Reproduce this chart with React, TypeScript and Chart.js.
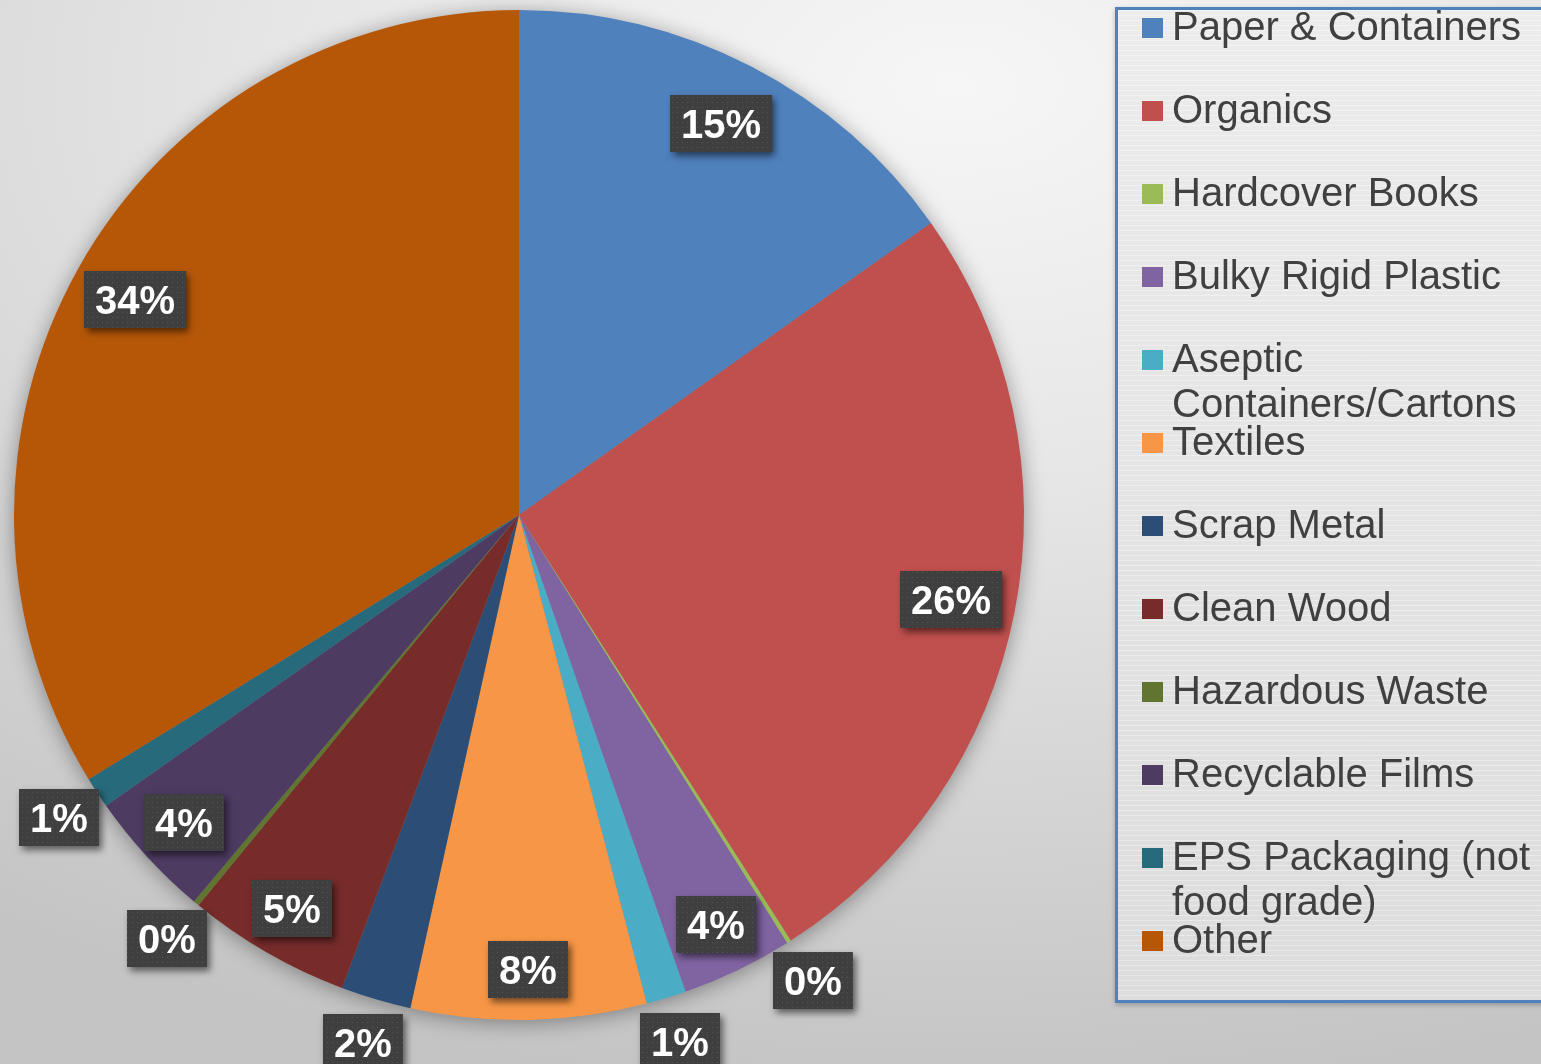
import React, { useEffect, useRef } from "react";
import { Chart, registerables } from "chart.js";

Chart.register(...registerables);

const categories = [
  "Paper & Containers",
  "Organics",
  "Hardcover Books",
  "Bulky Rigid Plastic",
  "Aseptic Containers/Cartons",
  "Textiles",
  "Scrap Metal",
  "Clean Wood",
  "Hazardous Waste",
  "Recyclable Films",
  "EPS Packaging (not food grade)",
  "Other",
];

const shares = [15.2, 25.8, 0.14, 3.56, 1.28, 7.53, 2.25, 5.25, 0.19, 4.11, 1.0, 33.8];

const sliceColors = [
  "#4F81BD",
  "#C0504D",
  "#9BBB59",
  "#8064A2",
  "#4BACC6",
  "#F79646",
  "#2C4D75",
  "#772C2A",
  "#5F7530",
  "#4D3B62",
  "#276A7C",
  "#B65708",
];

const FONT = '"Liberation Sans", Arial, sans-serif';

export default function App() {
  const canvasRef = useRef<HTMLCanvasElement | null>(null);

  useEffect(() => {
    const canvas = canvasRef.current;
    if (!canvas) return;

    const tile = document.createElement("canvas");
    tile.width = 5;
    tile.height = 5;
    const tctx = tile.getContext("2d")!;
    tctx.fillStyle = "#3f3f3f";
    tctx.fillRect(0, 0, 5, 5);
    tctx.fillStyle = "#555555";
    tctx.fillRect(2, 2, 1, 1);

    const total = shares.reduce((a, b) => a + b, 0);

    const pieShadow = {
      id: "pieShadow",
      beforeDatasetsDraw(chart: any) {
        const meta = chart.getDatasetMeta(0);
        const arc = meta.data[0];
        if (!arc) return;
        const { x, y, outerRadius } = arc.getProps(["x", "y", "outerRadius"], true);
        const ctx = chart.ctx;
        ctx.save();
        ctx.shadowColor = "rgba(0,0,0,0.4)";
        ctx.shadowBlur = 22;
        ctx.shadowOffsetX = 0;
        ctx.shadowOffsetY = 3;
        ctx.beginPath();
        ctx.arc(x, y, outerRadius - 1, 0, Math.PI * 2);
        ctx.fillStyle = "#888";
        ctx.fill();
        ctx.restore();
      },
    };

    const boxLabels = {
      id: "boxLabels",
      afterDatasetsDraw(chart: any) {
        const ctx = chart.ctx as CanvasRenderingContext2D;
        const meta = chart.getDatasetMeta(0);
        const pattern = ctx.createPattern(tile, "repeat")!;
        meta.data.forEach((arc: any, i: number) => {
          const p = arc.getProps(["x", "y", "startAngle", "endAngle", "outerRadius"], true);
          const frac = (shares[i] / total) * 100;
          const text = Math.round(frac) + "%";
          const mid = (p.startAngle + p.endAngle) / 2;
          let k: number;
          if (frac >= 10) k = 0.872;
          else if (frac >= 3) k = 0.9;
          else k = 1.09;
          const r = p.outerRadius * k;
          const cx = p.x + Math.cos(mid) * r;
          const cy = p.y + Math.sin(mid) * r;
          ctx.save();
          ctx.font = `bold 40px ${FONT}`;
          const tw = ctx.measureText(text).width;
          const w = tw + 22;
          const h = 57;
          const bx = Math.round(cx - w / 2);
          const by = Math.round(cy - h / 2);
          ctx.shadowColor = "rgba(0,0,0,0.55)";
          ctx.shadowBlur = 7;
          ctx.shadowOffsetX = 3;
          ctx.shadowOffsetY = 4;
          ctx.fillStyle = "#3f3f3f";
          ctx.fillRect(bx, by, w, h);
          ctx.shadowColor = "transparent";
          ctx.shadowBlur = 0;
          ctx.shadowOffsetX = 0;
          ctx.shadowOffsetY = 0;
          ctx.fillStyle = pattern;
          ctx.fillRect(bx, by, w, h);
          ctx.fillStyle = "#ffffff";
          ctx.textAlign = "center";
          ctx.textBaseline = "alphabetic";
          ctx.fillText(text, bx + w / 2, by + h / 2 + 14);
          ctx.restore();
        });
      },
    };

    const chart = new Chart(canvas, {
      type: "pie",
      data: {
        labels: categories,
        datasets: [
          {
            data: shares,
            backgroundColor: sliceColors,
            borderWidth: 0,
          },
        ],
      },
      options: {
        animation: false,
        responsive: false,
        maintainAspectRatio: false,
        layout: { padding: { left: 14, top: 10, right: 517, bottom: 44 } },
        plugins: {
          legend: { display: false },
          tooltip: { enabled: false },
          title: { display: false },
        },
      },
      plugins: [pieShadow, boxLabels],
    });

    return () => chart.destroy();
  }, []);

  const itemTop = (i: number) => 4 + i * 83;

  return (
    <div
      style={{
        position: "fixed",
        left: 0,
        top: 0,
        width: 1541,
        height: 1064,
        overflow: "hidden",
        background:
          "radial-gradient(ellipse 110% 95% at 62% 8%, #f6f6f6 0%, #e6e6e6 40%, #d2d2d2 75%, #c4c4c4 100%)",
        fontFamily: FONT,
      }}
    >
      <canvas
        ref={canvasRef}
        width={1541}
        height={1064}
        style={{ position: "absolute", left: 0, top: 0, width: 1541, height: 1064 }}
      />
      <div
        style={{
          position: "absolute",
          left: 1115,
          top: 7,
          width: 460,
          height: 990,
          border: "3px solid #4F81BD",
          boxShadow: "0 2px 5px rgba(0,0,0,0.25)",
          background:
            "repeating-linear-gradient(to bottom, rgba(255,255,255,0.35) 0px, rgba(255,255,255,0.35) 1px, rgba(0,0,0,0) 1px, rgba(0,0,0,0) 5px), linear-gradient(to bottom, #ececec, #dcdcdc)",
        }}
      />
      {categories.map((name, i) => (
        <div key={name}>
          <div
            style={{
              position: "absolute",
              left: 1142,
              top: itemTop(i) + 14,
              width: 21,
              height: 20,
              background: sliceColors[i],
            }}
          />
          <div
            style={{
              position: "absolute",
              left: 1172,
              top: itemTop(i),
              width: 366,
              fontSize: 40,
              lineHeight: "45px",
              color: "#404040",
              fontFamily: FONT,
            }}
          >
            {name}
          </div>
        </div>
      ))}
    </div>
  );
}
